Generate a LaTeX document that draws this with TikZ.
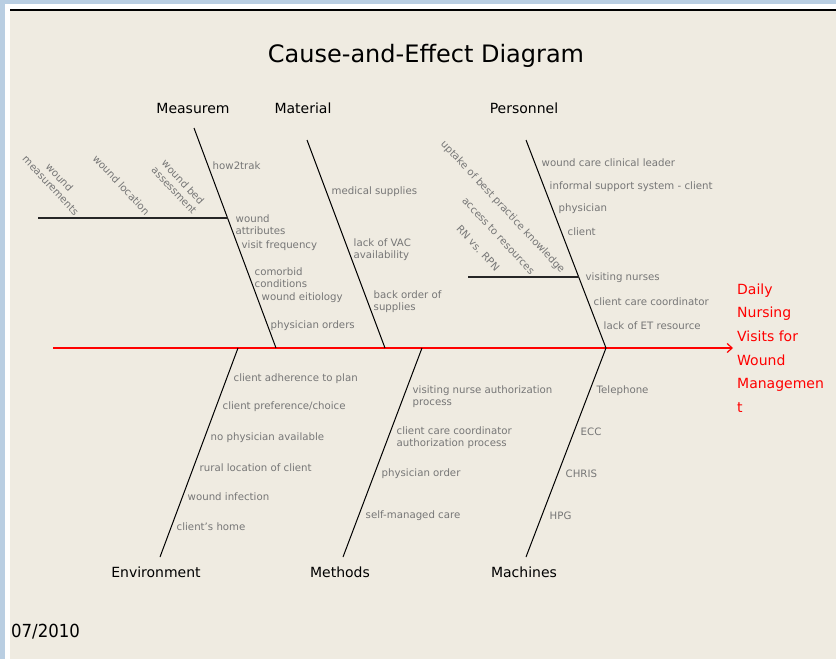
\documentclass[tikz,border=0pt]{standalone}
\usepackage{fontspec}
\setmainfont{DejaVu Sans}
\usetikzlibrary{arrows.meta}
\definecolor{bgbeige}{RGB}{239,235,225}
\definecolor{frameblue}{RGB}{185,206,226}
\definecolor{labgray}{RGB}{118,118,118}
\definecolor{effred}{RGB}{255,0,0}
\begin{document}
\begin{tikzpicture}[x=1pt,y=-1pt,
  cause/.style={font=\fontsize{10.2}{12}\selectfont, text=labgray, anchor=west, inner sep=0.5pt, align=left},
  subcause/.style={font=\fontsize{10.2}{12}\selectfont, text=labgray, anchor=south east, inner sep=0.5pt, align=center, rotate=-47},
  cat/.style={font=\fontsize{14}{16}\selectfont, inner sep=0pt},
  bone/.style={draw=black, line width=1pt},
  subbone/.style={draw=black!85, line width=1.6pt},
  spine/.style={draw=effred, line width=1.4pt}]
\useasboundingbox (0,0) rectangle (836,659);
% frame
\fill[frameblue] (0,0) rectangle (836,659);
\fill[white] (5,4) rectangle (836,659);
\fill[bgbeige] (10,10) rectangle (836,659);
\draw[black, line width=2pt] (10,10) -- (836,10);

% title
\node[font=\fontsize{24}{28}\selectfont, inner sep=0pt] (title) at (426,56) {Cause-and-Effect Diagram};

% spine
\coordinate (spineL) at (53,348);
\coordinate (head) at (733,348);
\draw[spine, -{Straight Barb[length=5pt,width=9pt,line width=1.2pt]}] (spineL) -- (head);
\node[font=\fontsize{14}{23.6}\selectfont, text=effred, anchor=north west, inner sep=0pt, align=left] (effect) at (737,283.5)
  {Daily\\Nursing\\Visits for\\Wound\\Managemen\\t};

% category labels
\node[cat] (meas) at (193,108) {Measurem};
\node[cat] (mat) at (303,108) {Material};
\node[cat] (pers) at (524,108) {Personnel};
\node[cat] (env) at (156,572) {Environment};
\node[cat] (meth) at (340,572) {Methods};
\node[cat] (mach) at (524,572) {Machines};

% bones
\coordinate (mtop) at (194,128);  \coordinate (mbot) at (276,348);
\coordinate (matop) at (307,140); \coordinate (mabot) at (385,348);
\coordinate (ptop) at (526,140);  \coordinate (pbot) at (606,348);
\coordinate (etop) at (238,348);  \coordinate (ebot) at (160,557);
\coordinate (metop) at (422,348); \coordinate (mebot) at (343,557);
\coordinate (mctop) at (606,348); \coordinate (mcbot) at (526,557);
\draw[bone] (mtop) -- (mbot);
\draw[bone] (matop) -- (mabot);
\draw[bone] (ptop) -- (pbot);
\draw[bone] (etop) -- (ebot);
\draw[bone] (metop) -- (mebot);
\draw[bone] (mctop) -- (mcbot);

% sub-bones
\coordinate (msL) at (38,218);  \coordinate (msR) at (227.5,218);
\coordinate (psL) at (468,277); \coordinate (psR) at (578.7,277);
\draw[subbone] (msL) -- (msR);
\draw[subbone] (psL) -- (psR);

% Measurem sub-causes
\node[subcause] (wm) at (74,217) {wound\\measurements};
\node[subcause] (wl) at (145,217) {wound location};
\node[subcause] (wb) at (192,216) {wound bed\\assessment};
% Personnel sub-causes
\node[subcause] (up) at (559,276) {uptake of best practice knowledge};
\node[subcause] (ac) at (530,276) {access to resources};
\node[subcause] (rn) at (495,273) {RN vs. RPN};

% Measurem causes
\node[cause] (c1) at (212,166) {how2trak};
\node[cause] (c2) at (235,225) {wound\\attributes};
\node[cause] (c3) at (241,246) {visit frequency};
\node[cause] (c4) at (254,278) {comorbid\\conditions};
\node[cause] (c5) at (261,298) {wound eitiology};
\node[cause] (c6) at (270,326) {physician orders};
% Material causes
\node[cause] (c7) at (331,192) {medical supplies};
\node[cause] (c8) at (353,250) {lack of VAC\\availability};
\node[cause] (c9) at (373,302) {back order of\\supplies};
% Personnel causes
\node[cause] (c10) at (541,163) {wound care clinical leader};
\node[cause] (c11) at (549,187) {informal support system - client};
\node[cause] (c12) at (558,209) {physician};
\node[cause] (c13) at (567,232) {client};
\node[cause] (c14) at (585,278) {visiting nurses};
\node[cause] (c15) at (593,302) {client care coordinator};
\node[cause] (c16) at (603,326) {lack of ET resource};
% Environment causes
\node[cause] (c17) at (233,379) {client adherence to plan};
\node[cause] (c18) at (222,407) {client preference/choice};
\node[cause] (c19) at (210,438) {no physician available};
\node[cause] (c20) at (199,468) {rural location of client};
\node[cause] (c21) at (187,497) {wound infection};
\node[cause] (c22) at (176,527) {client's home};
% Methods causes
\node[cause] (c23) at (412,397) {visiting nurse authorization\\process};
\node[cause] (c24) at (396,438) {client care coordinator\\authorization process};
\node[cause] (c25) at (381,474) {physician order};
\node[cause] (c26) at (365,516) {self-managed care};
% Machines causes
\node[cause] (c27) at (596,391) {Telephone};
\node[cause] (c28) at (580,432) {ECC};
\node[cause] (c29) at (565,474) {CHRIS};
\node[cause] (c30) at (549,516) {HPG};

% date
\node[font=\fontsize{18}{20}\selectfont, anchor=west, inner sep=0pt, xscale=0.92] (date) at (11,632) {07/2010};
\end{tikzpicture}
\end{document}
